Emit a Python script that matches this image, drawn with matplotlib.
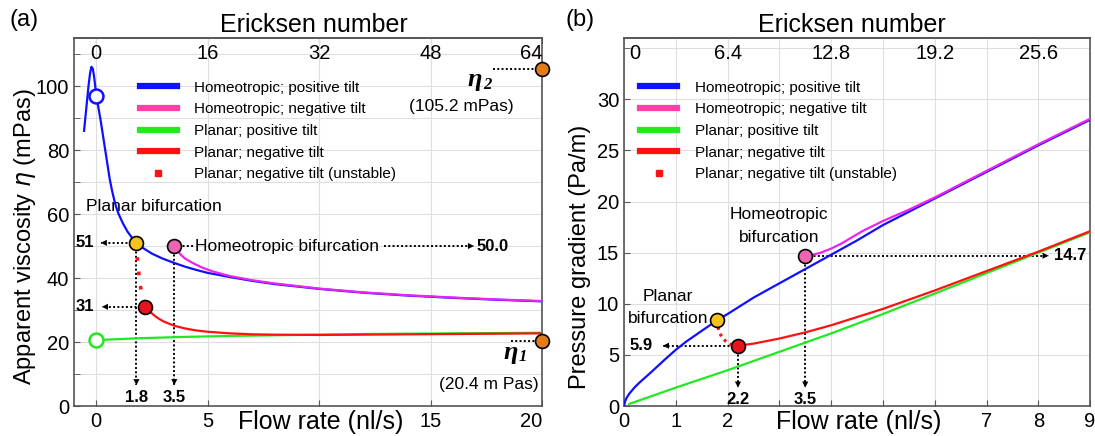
import numpy as np
import matplotlib
matplotlib.use('Agg')
import matplotlib.pyplot as plt
import matplotlib.transforms as mtransforms
from matplotlib.lines import Line2D

plt.rcParams['font.family'] = ['Liberation Sans', 'DejaVu Sans']

# ---- (a) apparent viscosity vs flow rate ----
q_homeo_pos = [-0.55, -0.45, -0.35, -0.28, -0.22, -0.16, -0.1, -0.05, 0.0, 0.1, 0.2, 0.3, 0.4, 0.5,
               0.6, 0.7, 0.8, 0.9, 1.0, 1.2, 1.4, 1.6, 1.8, 2.0, 2.5, 3.0, 3.5, 4.0, 4.5, 5.0, 6.0,
               7.0, 8.0, 10.0, 12.0, 14.0, 16.0, 18.0, 20.0]
eta_homeo_pos = [86, 93, 100, 104, 106, 105.5, 103, 100, 97, 93, 89, 84.5, 80, 75.5,
                 71, 67.5, 64.5, 62, 60, 57, 54.5, 52.6, 51, 49.8, 47.6, 46, 44.7, 43.5, 42.5, 41.6, 40.3,
                 39.1, 38.1, 36.6, 35.4, 34.5, 33.8, 33.2, 32.7]
q_homeo_neg = [3.5, 3.6, 3.8, 4.0, 4.3, 4.7, 5.2, 6.0, 7.0, 8.0, 10.0, 12.0, 14.0, 16.0, 18.0, 20.0]
eta_homeo_neg = [50, 48.8, 47.2, 46, 44.8, 43.4, 42.1, 40.6, 39.3, 38.3, 36.7, 35.5, 34.6, 33.9, 33.3, 32.8]
q_planar_pos = [0, 1, 2, 3, 4, 6, 8, 10, 12, 14, 16, 18, 20]
eta_planar_pos = [20.6, 20.9, 21.2, 21.4, 21.6, 21.9, 22.1, 22.3, 22.5, 22.6, 22.7, 22.8, 22.9]
q_planar_neg = [2.2, 2.4, 2.6, 2.8, 3.0, 3.3, 3.6, 4.0, 4.5, 5.0, 6.0, 7.0, 8.0, 10.0, 12.0, 14.0, 16.0, 18.0, 20.0]
eta_planar_neg = [31, 29.5, 28.3, 27.3, 26.5, 25.6, 24.9, 24.2, 23.6, 23.2, 22.7, 22.4, 22.3, 22.2, 22.3, 22.4, 22.5, 22.6, 22.7]
q_planar_unst = [1.8, 1.85, 1.95, 2.05, 2.2]
eta_planar_unst = [51, 45, 39, 34, 31]

q_bif_planar, eta_bif_planar = 1.8, 51
q_bif_planar_low, eta_bif_planar_low = 2.2, 31
q_bif_homeo, eta_bif_homeo = 3.5, 50.0
eta_1, eta_2 = 20.4, 105.2
q_max_a = 20
er_ticks_a = [0, 16, 32, 48, 64]

# ---- (b) pressure gradient vs flow rate ----
q_b_homeo_pos = [0, 0.02, 0.05, 0.1, 0.2, 0.3, 0.4, 0.5, 0.65, 0.8, 1.0, 1.2, 1.4, 1.6, 1.8, 2.0, 2.5,
                 3.0, 3.5, 4.0, 4.5, 5.0, 5.5, 6.0, 7.0, 8.0, 9.0]
p_homeo_pos = [0, 0.45, 0.8, 1.2, 1.8, 2.3, 2.75, 3.2, 3.9, 4.6, 5.5, 6.3, 7.0, 7.7, 8.4, 9.0, 10.6,
               12.0, 13.4, 14.8, 16.2, 17.7, 19.0, 20.3, 22.9, 25.5, 28.0]
q_b_homeo_neg = [3.5, 3.65, 3.8, 4.0, 4.2, 4.4, 4.6, 4.8, 5.0, 5.5, 6.0, 7.0, 8.0, 9.0]
p_homeo_neg = [14.7, 14.8, 15.0, 15.4, 15.9, 16.5, 17.1, 17.6, 18.1, 19.2, 20.4, 23.0, 25.6, 28.1]
q_b_planar_pos = [0.1, 1, 2, 3, 4, 5, 6, 7, 8, 9]
p_planar_pos = [0.2, 1.8, 3.5, 5.3, 7.1, 9.0, 11.0, 13.0, 15.0, 17.0]
q_b_planar_neg = [2.2, 2.5, 3.0, 3.5, 4.0, 5.0, 6.0, 7.0, 8.0, 9.0]
p_planar_neg = [5.9, 6.1, 6.6, 7.2, 7.9, 9.5, 11.3, 13.2, 15.1, 17.1]
q_b_planar_unst = [1.8, 1.81, 1.84, 1.89, 1.96, 2.05, 2.2]
p_planar_unst = [8.4, 7.8, 7.2, 6.75, 6.35, 6.05, 5.9]

q_b_bif_planar, p_bif_planar = 1.8, 8.4
q_b_bif_planar_low, p_bif_planar_low = 2.2, 5.9
q_b_bif_homeo, p_bif_homeo = 3.5, 14.7
er_ticks_b = [0, 6.4, 12.8, 19.2, 25.6]
er_minor_b = [3.2, 9.6, 16.0, 22.4]

legend_labels = ['Homeotropic; positive tilt', 'Homeotropic; negative tilt',
                 'Planar; positive tilt', 'Planar; negative tilt',
                 'Planar; negative tilt (unstable)']

BLUE = '#1010ff'
MAGENTA = '#ee22ee'
PINK = '#ff3fa6'
GREEN = '#22e822'
RED = '#ff1111'
ER_PER_Q = 3.2


def dotted_arrow(ax, x0, y0, x1, y1, head=True):
    ax.plot([x0, x1], [y0, y1], color='k', ls=(0, (1, 1.2)), lw=1.4, zorder=3, clip_on=False)
    if head:
        ax.annotate('', xy=(x1, y1), xytext=(x0, y0),
                    arrowprops=dict(arrowstyle='-|>', color='k', lw=0, mutation_scale=11,
                                    shrinkA=0, shrinkB=0), annotation_clip=False)


def dot(ax, x, y, fc, ec='k', ms=10, mew=1.2):
    ax.plot([x], [y], 'o', ms=ms, mfc=fc, mec=ec, mew=mew, zorder=6, clip_on=False)


def style_axes(ax):
    for s in ax.spines.values():
        s.set_color('#555555')
        s.set_linewidth(1.2)
    ax.grid(True, which='both', color='#dedede', lw=0.8)
    ax.set_axisbelow(True)
    ax.tick_params(which='both', direction='in', top=False, right=False, colors='#555555',
                   labelcolor='k', labelsize=14.5, length=4)
    ax.tick_params(axis='x', pad=4.5)


def ericksen_axis(ax, major, minor=(), major_len=4):
    # Ericksen number scale along the top, labels sit just inside the frame
    sec = ax.secondary_xaxis('top', functions=(lambda q: q * ER_PER_Q, lambda e: e / ER_PER_Q))
    sec.set_xticks(major)
    sec.set_xticks(list(minor), minor=True)
    sec.tick_params(which='major', direction='in', length=major_len, colors='#555555', labeltop=False)
    sec.tick_params(which='minor', direction='in', length=4, colors='#555555')
    sec.spines['top'].set_color('#555555')
    sec.spines['top'].set_linewidth(1.2)
    trans = mtransforms.blended_transform_factory(ax.transData, ax.transAxes)
    q_lo, q_hi = ax.get_xlim()
    for er in major:
        q = er / ER_PER_Q
        ha = 'center'
        if q - q_lo < 0.02 * (q_hi - q_lo):
            ha, q = 'left', q + 0.012 * (q_hi - q_lo)
        elif q_hi - q < 0.02 * (q_hi - q_lo):
            ha = 'right'
        ax.text(q, 0.958, '%g' % er, transform=trans, fontsize=14.5, ha=ha, va='center')


def add_legend(ax, x, y):
    handles = [Line2D([], [], color=BLUE, lw=4.5),
               Line2D([], [], color=PINK, lw=4.5),
               Line2D([], [], color=GREEN, lw=4.5),
               Line2D([], [], color=RED, lw=4.5),
               Line2D([], [], ls='none', marker='s', ms=4.5, color=RED)]
    ax.legend(handles, legend_labels, loc='upper left', bbox_to_anchor=(x, y), frameon=False,
              fontsize=11, handlelength=2.4, handletextpad=1.15, labelspacing=0.5,
              borderpad=0, borderaxespad=0, numpoints=1)


fig = plt.figure(figsize=(10.95, 4.36), dpi=100)
axa = fig.add_axes([0.0676, 0.0688, 0.4274, 0.844])
axb = fig.add_axes([0.5699, 0.0688, 0.4256, 0.844])

# ================= panel (a) =================
style_axes(axa)
axa.plot(q_planar_pos, eta_planar_pos, color=GREEN, lw=1.6, zorder=4)
axa.plot(q_planar_neg, eta_planar_neg, color=RED, lw=1.6, zorder=4)
axa.plot(q_homeo_pos, eta_homeo_pos, color=BLUE, lw=1.6, zorder=4)
axa.plot(q_homeo_neg, eta_homeo_neg, color=MAGENTA, lw=1.6, zorder=4)
axa.plot(q_planar_unst, eta_planar_unst, color=RED, lw=2.6, ls=(0, (1, 3)), zorder=4)

axa.set_xlim(-1, 20)
axa.set_ylim(0, 115)
axa.set_xticks([0, 5, 10, 15, 20])
axa.set_xticklabels(['0', '5', '', '15', '20'])
axa.get_xticklabels()[-1].set_ha('right')
axa.set_yticks([0, 20, 40, 60, 80, 100])
axa.set_yticks(np.arange(10, 115, 20), minor=True)
ericksen_axis(axa, er_ticks_a)

axa.set_xlabel('Flow rate (nl/s)', fontsize=18, va='center')
axa.xaxis.set_label_coords(0.526, -0.044)
axa.set_ylabel(r'Apparent viscosity $\eta$ (mPas)', fontsize=17, va='center')
axa.yaxis.set_label_coords(-0.105, 0.46)
axa.text(0.513, 1.035, 'Ericksen number', transform=axa.transAxes, fontsize=18,
         ha='center', va='center')

# bifurcation points and markers
dot(axa, 0, eta_homeo_pos[8], 'white', ec=BLUE, mew=1.8)
dot(axa, q_planar_pos[0], eta_planar_pos[0], 'white', ec=GREEN, mew=1.8)
dot(axa, q_bif_planar, eta_bif_planar, '#f7c21b')
dot(axa, q_bif_planar_low, eta_bif_planar_low, '#e8141b')
dot(axa, q_bif_homeo, eta_bif_homeo, '#f064b4')
dot(axa, q_max_a, eta_2, '#e07b16')
dot(axa, q_max_a, eta_1, '#e07b16')

dotted_arrow(axa, q_bif_planar, eta_bif_planar, 0.2, eta_bif_planar)
axa.text(-0.5, eta_bif_planar, '%d' % eta_bif_planar, fontsize=12, weight='bold', ha='center', va='center')
dotted_arrow(axa, q_bif_planar_low, eta_bif_planar_low, 0.25, eta_bif_planar_low)
axa.text(-0.5, eta_bif_planar_low, '%d' % eta_bif_planar_low, fontsize=12, weight='bold', ha='center', va='center')
dotted_arrow(axa, q_bif_planar, eta_bif_planar, q_bif_planar, 6.5)
axa.text(q_bif_planar, 2.6, '%.1f' % q_bif_planar, fontsize=12, weight='bold', ha='center', va='center')
dotted_arrow(axa, q_bif_homeo, eta_bif_homeo, q_bif_homeo, 6.5)
axa.text(q_bif_homeo, 2.6, '%.1f' % q_bif_homeo, fontsize=12, weight='bold', ha='center', va='center')

dotted_arrow(axa, q_bif_homeo, eta_bif_homeo, 4.4, eta_bif_homeo, head=False)
axa.text(4.45, eta_bif_homeo, 'Homeotropic bifurcation', fontsize=12.5, ha='left', va='center')
dotted_arrow(axa, 12.9, eta_bif_homeo, 16.95, eta_bif_homeo)
axa.text(17.05, eta_bif_homeo, '%.1f' % eta_bif_homeo, fontsize=12, weight='bold', ha='left', va='center')
axa.text(-0.45, 62.5, 'Planar bifurcation', fontsize=12.5, ha='left', va='center')

# Miesowicz viscosities
dotted_arrow(axa, 17.8, eta_2, 19.7, eta_2, head=False)
axa.text(17.0, 101.9, 'η', family='Liberation Serif', weight='bold', style='italic', fontsize=19,
         ha='center', va='center')
axa.text(17.55, 100.3, '2', family='Liberation Serif', weight='bold', style='italic', fontsize=12,
         ha='center', va='center')
axa.text(16.4, 93.5, '(105.2 mPas)', fontsize=12.5, ha='center', va='center')
dotted_arrow(axa, 18.6, eta_1, 19.7, eta_1, head=False)
axa.text(18.6, 16.8, 'η', family='Liberation Serif', weight='bold', style='italic', fontsize=19,
         ha='center', va='center')
axa.text(19.12, 15.3, '1', family='Liberation Serif', weight='bold', style='italic', fontsize=12,
         ha='center', va='center')
axa.text(17.6, 6.6, '(20.4 m Pas)', fontsize=12.5, ha='center', va='center')

add_legend(axa, 0.141, 0.884)

# ================= panel (b) =================
style_axes(axb)
axb.plot(q_b_planar_pos, p_planar_pos, color=GREEN, lw=1.6, zorder=4)
axb.plot(q_b_planar_neg, p_planar_neg, color=RED, lw=1.6, zorder=4)
axb.plot(q_b_homeo_pos, p_homeo_pos, color=BLUE, lw=1.6, zorder=4)
axb.plot(q_b_homeo_neg, p_homeo_neg, color=MAGENTA, lw=1.6, zorder=4)
axb.plot(q_b_planar_unst, p_planar_unst, color=RED, lw=2.3, ls=(0, (0.9, 1.3)), zorder=4)

axb.set_xlim(0, 9)
axb.set_ylim(0, 36)
axb.set_xticks(range(0, 10))
axb.set_xticklabels(['0', '1', '2', '', '', '', '', '7', '8', '9'])
axb.set_yticks([0, 5, 10, 15, 20, 25, 30])
axb.set_yticks([35], minor=True)
ericksen_axis(axb, er_ticks_b, er_minor_b, major_len=0)

axb.set_xlabel('Flow rate (nl/s)', fontsize=18, va='center')
axb.xaxis.set_label_coords(0.504, -0.044)
axb.set_ylabel('Pressure gradient (Pa/m)', fontsize=17, va='center')
axb.yaxis.set_label_coords(-0.094, 0.405)
axb.text(0.489, 1.035, 'Ericksen number', transform=axb.transAxes, fontsize=18,
         ha='center', va='center')

dot(axb, q_b_bif_planar, p_bif_planar, '#f7c21b')
dot(axb, q_b_bif_planar_low, p_bif_planar_low, '#e8141b')
dot(axb, q_b_bif_homeo, p_bif_homeo, '#f064b4')

dotted_arrow(axb, q_b_bif_homeo, p_bif_homeo, 8.2, p_bif_homeo)
axb.text(8.3, p_bif_homeo, '%.1f' % p_bif_homeo, fontsize=12, weight='bold', ha='left', va='center')
dotted_arrow(axb, q_b_bif_homeo, p_bif_homeo, q_b_bif_homeo, 1.8)
axb.text(q_b_bif_homeo, 0.6, '%.1f' % q_b_bif_homeo, fontsize=12, weight='bold', ha='center', va='center')
dotted_arrow(axb, q_b_bif_planar_low, p_bif_planar_low, q_b_bif_planar_low, 1.8)
axb.text(q_b_bif_planar_low, 0.6, '%.1f' % q_b_bif_planar_low, fontsize=12, weight='bold', ha='center', va='center')
dotted_arrow(axb, q_b_bif_planar_low, p_bif_planar_low, 0.75, p_bif_planar_low)
axb.text(0.33, p_bif_planar_low, '%.1f' % p_bif_planar_low, fontsize=12, weight='bold', ha='center', va='center')

axb.text(3.0, 17.6, 'Homeotropic\nbifurcation', fontsize=12.5, ha='center', va='center', linespacing=1.6)
axb.text(0.85, 9.65, 'Planar\nbifurcation', fontsize=12.5, ha='center', va='center', linespacing=1.6)

add_legend(axb, 0.035, 0.884)

fig.text(24 / 1095, 1 - 20 / 436, '(a)', fontsize=17, ha='center', va='center')
fig.text(580 / 1095, 1 - 20 / 436, '(b)', fontsize=17, ha='center', va='center')

fig.savefig('out.png', dpi=100)
